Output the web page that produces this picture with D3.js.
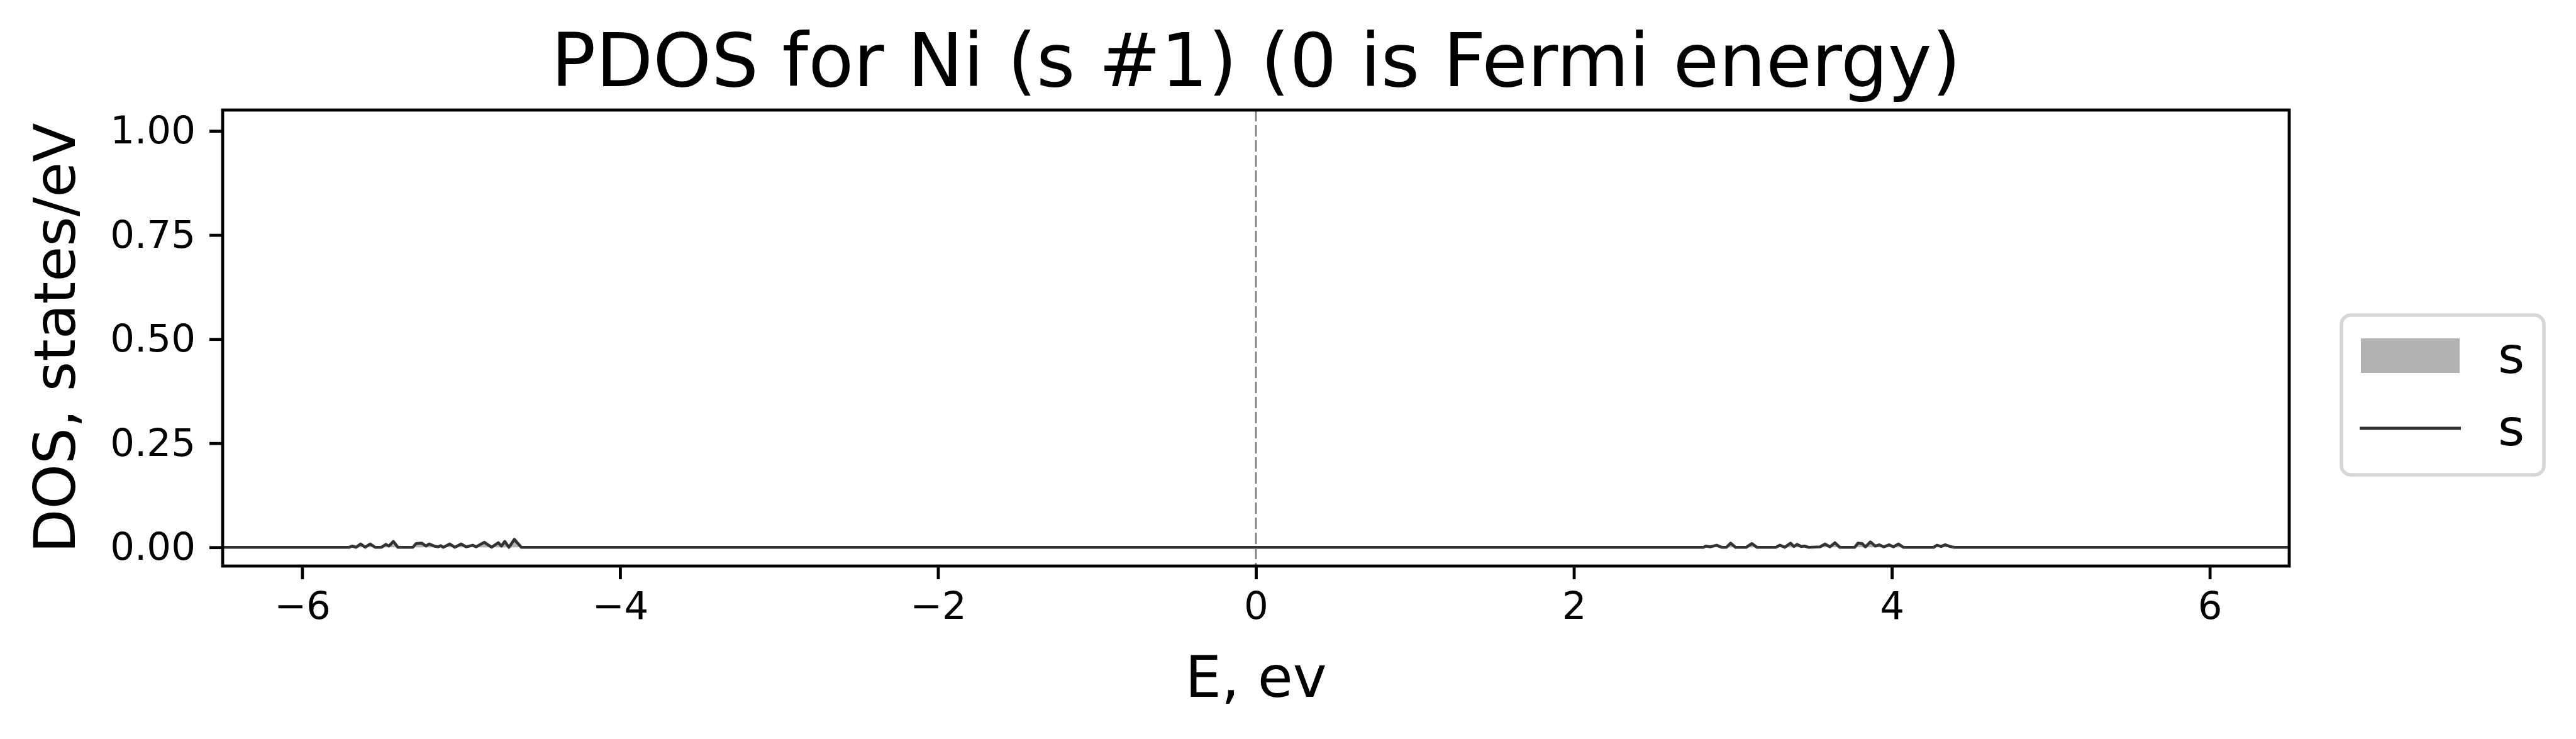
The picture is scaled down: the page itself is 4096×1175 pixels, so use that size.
<!DOCTYPE html>
<html>
<head>
<meta charset="utf-8">
<script src="https://cdn.jsdelivr.net/npm/d3@7"></script>
<style>
  html, body { margin: 0; padding: 0; background: #fff; }
  svg { display: block; font-family: "DejaVu Sans", sans-serif; }
</style>
</head>
<body>
<svg id="chart" width="4096" height="1175"></svg>
<script>
// ---- data ----
const energy = [-6.5, -5.703, -5.686, -5.66, -5.632, -5.603, -5.572, -5.541, -5.500, -5.474, -5.454, -5.426, -5.397,
  -5.304, -5.283, -5.247, -5.221, -5.201, -5.170, -5.144, -5.128, -5.112, -5.071, -5.040, -4.999, -4.968, -4.927,
  -4.906, -4.854, -4.808, -4.766, -4.746, -4.725, -4.699, -4.665, -4.621,
  2.815, 2.831, 2.857, 2.898, 2.929, 2.960, 2.986, 3.017, 3.084, 3.120, 3.151, 3.270, 3.296, 3.327, 3.363, 3.384,
  3.404, 3.430, 3.451, 3.477, 3.549, 3.580, 3.611, 3.642, 3.673, 3.767, 3.787, 3.813, 3.834, 3.865, 3.896, 3.922,
  3.948, 3.984, 4.010, 4.041, 4.072, 4.263, 4.284, 4.310, 4.336, 4.367, 4.393, 6.5];
const dos = [0, 0, 0.003, 0, 0.008, 0, 0.008, 0, 0, 0.007, 0.003, 0.014, 0,
  0, 0.009, 0.010, 0.003, 0.008, 0.003, 0.001, 0.004, 0, 0.008, 0, 0.008, 0.001, 0.005,
  0.001, 0.012, 0, 0.011, 0.003, 0.014, 0, 0.019, 0,
  0, 0.003, 0.001, 0.005, 0, 0, 0.010, 0, 0, 0.009, 0, 0, 0.005, 0, 0.010, 0.002,
  0.007, 0.002, 0.003, 0, 0.001, 0.008, 0.001, 0.011, 0, 0, 0.010, 0.009, 0.001, 0.013, 0.003, 0.006,
  0.001, 0.006, 0.001, 0.008, 0, 0, 0.005, 0.002, 0.006, 0.002, 0, 0];
const xTicks = [-6, -4, -2, 0, 2, 4, 6];
const yTicks = [0, 0.25, 0.5, 0.75, 1.0];
const legendLabels = ["s", "s"];
const titleText = "PDOS for Ni (s #1) (0 is Fermi energy)";
const xLabelText = "E, ev";
const yLabelText = "DOS, states/eV";

// ---- layout ----
const W = 4096, H = 1175;
const plot = { left: 354, right: 3640, top: 175, bottom: 900 };
const svg = d3.select("#chart");

const x = d3.scaleLinear().domain([-6.5, 6.5]).range([plot.left, plot.right]);
const y = d3.scaleLinear().domain([-0.045, 1.05]).range([plot.bottom, plot.top]);

const pts = energy.map((e, i) => [e, dos[i]]);

// fill
svg.append("path")
  .datum(pts)
  .attr("fill", "#b2b2b2")
  .attr("d", d3.area().x(d => x(d[0])).y0(y(0)).y1(d => y(d[1])));

// line
svg.append("path")
  .datum(pts)
  .attr("fill", "none")
  .attr("stroke", "#333333")
  .attr("stroke-width", 4.6)
  .attr("stroke-linejoin", "round")
  .attr("d", d3.line().x(d => x(d[0])).y(d => y(d[1])));

// Fermi line
svg.append("line")
  .attr("x1", x(0)).attr("x2", x(0))
  .attr("y1", plot.top).attr("y2", plot.bottom)
  .attr("stroke", "#7a7a7a")
  .attr("stroke-width", 2.6)
  .attr("stroke-dasharray", "18,6");

// axes
const fmtX = d => (d < 0 ? "\u2212" + Math.abs(d) : String(d));
const xAxis = d3.axisBottom(x).tickValues(xTicks).tickFormat(fmtX).tickSize(21).tickPadding(20);
const yAxis = d3.axisLeft(y).tickValues(yTicks).tickFormat(d3.format(".2f")).tickSize(21).tickPadding(22);

const gx = svg.append("g").attr("transform", `translate(0,${plot.bottom})`).call(xAxis);
const gy = svg.append("g").attr("transform", `translate(${plot.left},0)`).call(yAxis);
[gx, gy].forEach(g => {
  g.select(".domain").remove();
  g.selectAll(".tick line").attr("stroke", "#000").attr("stroke-width", 4.8);
  g.selectAll(".tick text").attr("fill", "#000").style("font-size", "61px").style("font-family", "DejaVu Sans");
});

// frame
svg.append("rect")
  .attr("x", plot.left).attr("y", plot.top)
  .attr("width", plot.right - plot.left).attr("height", plot.bottom - plot.top)
  .attr("fill", "none").attr("stroke", "#000").attr("stroke-width", 4.8);

// title
svg.append("text")
  .attr("x", (plot.left + plot.right) / 2).attr("y", 137)
  .attr("text-anchor", "middle")
  .style("font-size", "118px")
  .text(titleText);

// axis labels
svg.append("text")
  .attr("x", (plot.left + plot.right) / 2).attr("y", 1108)
  .attr("text-anchor", "middle")
  .style("font-size", "91px")
  .text(xLabelText);

svg.append("text")
  .attr("transform", `translate(119,${(plot.top + plot.bottom) / 2}) rotate(-90)`)
  .attr("text-anchor", "middle")
  .style("font-size", "91px")
  .text(yLabelText);

// legend
const lg = svg.append("g");
lg.append("rect")
  .attr("x", 3723).attr("y", 501)
  .attr("width", 322).attr("height", 254)
  .attr("rx", 15).attr("ry", 15)
  .attr("fill", "#fff").attr("stroke", "#d6d6d6").attr("stroke-width", 5.5);
lg.append("rect")
  .attr("x", 3754).attr("y", 538).attr("width", 157).attr("height", 55)
  .attr("fill", "#b2b2b2");
lg.append("line")
  .attr("x1", 3752).attr("x2", 3913).attr("y1", 681).attr("y2", 681)
  .attr("stroke", "#333333").attr("stroke-width", 5);
lg.selectAll("text.leg")
  .data(legendLabels)
  .join("text")
  .attr("class", "leg")
  .attr("x", 3972)
  .attr("y", (d, i) => i === 0 ? 593 : 708)
  .style("font-size", "81px")
  .text(d => d);
</script>
</body>
</html>
